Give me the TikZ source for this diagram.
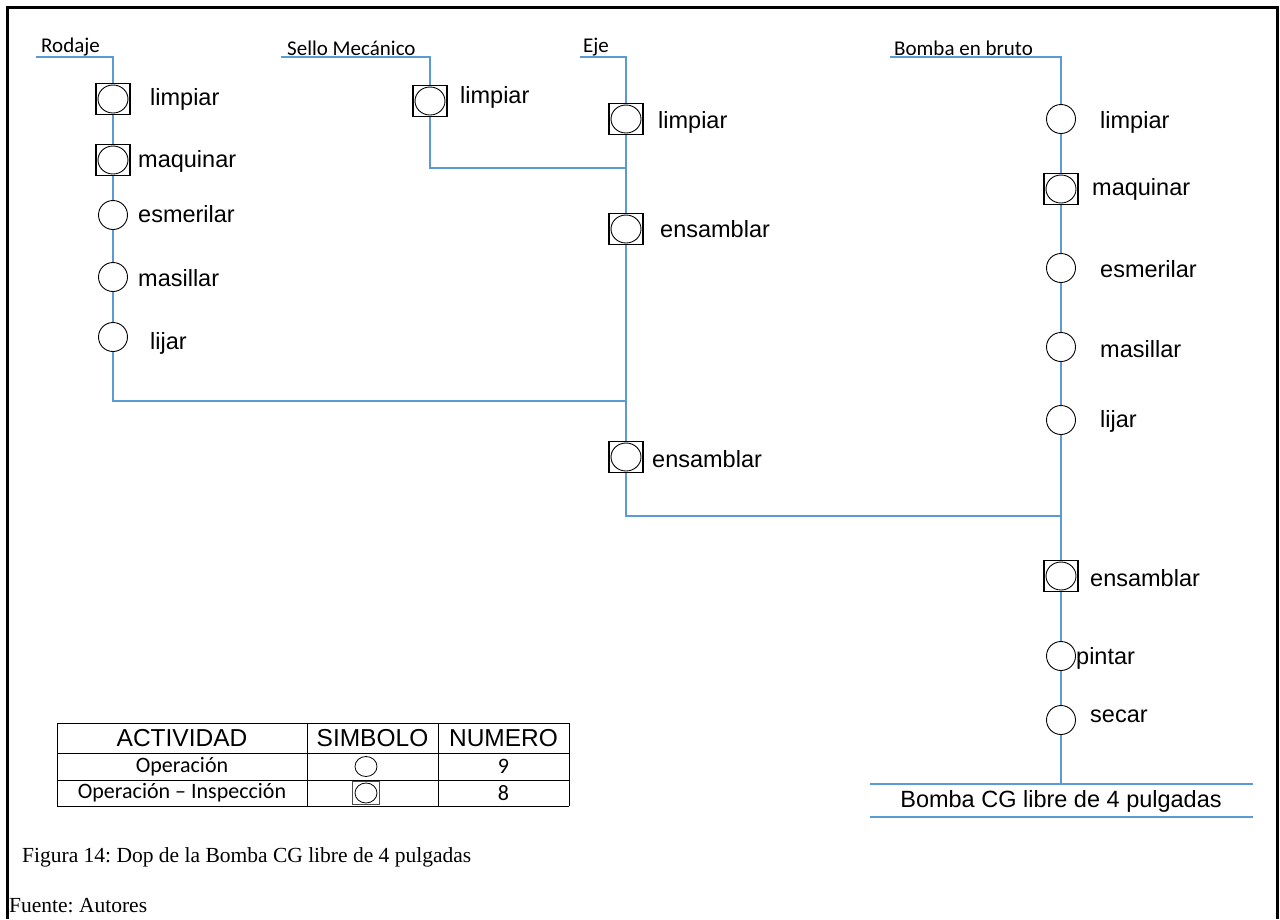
\documentclass[tikz,border=0pt]{standalone}
\usepackage{fontspec}
\setmainfont{Liberation Serif}
\newfontfamily\arialfont{Liberation Sans}
\newfontfamily\calfont{Carlito}
\usetikzlibrary{shapes.geometric, positioning, calc}
\frenchspacing

\definecolor{flowblue}{RGB}{91,155,213}

\begin{document}
\begin{tikzpicture}[x=1pt,y=-1pt,
  flow/.style={draw=flowblue, line width=1.4pt},
  oper/.style={draw, circle, minimum size=29pt, inner sep=0pt, line width=0.9pt},
  operins/.style={draw, rectangle, minimum width=34pt, minimum height=31pt, inner sep=0pt, line width=1.1pt,
    path picture={\draw[line width=0.9pt] (path picture bounding box.center) ellipse [x radius=15pt, y radius=14pt];}},
  act/.style={anchor=west, font=\arialfont\fontsize{23.5}{26}\selectfont, inner sep=0pt},
  src/.style={anchor=south west, font=\calfont\fontsize{21}{24}\selectfont, inner sep=1pt},
  cell/.style={font=\calfont\fontsize{22}{24}\selectfont, inner sep=0pt},
  head/.style={font=\arialfont\fontsize{24.5}{27}\selectfont, inner sep=0pt}]

\useasboundingbox (0,0) rectangle (1280,919);

% frame
\draw[line width=3pt] (7,919) -- (7,7) -- (1277,7) -- (1277,919);

\def\xrod{113}
\def\xsel{430}
\def\xeje{626}
\def\xbom{1061}
\def\ytop{57}

% sources
\coordinate (rodin) at (36,\ytop);
\coordinate (rodtop) at (\xrod,\ytop);
\coordinate (selin) at (281,\ytop);
\coordinate (seltop) at (\xsel,\ytop);
\coordinate (ejein) at (580,\ytop);
\coordinate (ejetop) at (\xeje,\ytop);
\coordinate (bomin) at (890,\ytop);
\coordinate (bomtop) at (\xbom,\ytop);
\node[src] (rodlbl) at (40,\ytop) {Rodaje};
\node[src] (sellbl) at (286,\ytop) {Sello Mecánico};
\node[src] (ejelbl) at (582,\ytop) {Eje};
\node[src] (bomlbl) at (893,\ytop) {Bomba en bruto};

% Rodaje
\node[operins] (r1) at (\xrod,99) {};
\node[operins] (r2) at (\xrod,160) {};
\node[oper] (r3) at (\xrod,215) {};
\node[oper] (r4) at (\xrod,277) {};
\node[oper] (r5) at (\xrod,337) {};
\node[act] at (150,99) {limpiar};
\node[act] at (138,161) {maquinar};
\node[act] at (138,214) {esmerilar};
\node[act] at (138,278) {masillar};
\node[act] at (150,343) {lijar};
\coordinate (rodend) at (\xrod,401);

% Sello
\node[operins] (s1) at (\xsel,101) {};
\node[act] at (460,97) {limpiar};
\coordinate (selend) at (\xsel,168);

% Eje
\node[operins] (e1) at (\xeje,119) {};
\node[operins] (e2) at (\xeje,229) {};
\node[operins] (e3) at (\xeje,457) {};
\node[act] at (658,122) {limpiar};
\node[act] at (660,229) {ensamblar};
\node[act] at (652,459) {ensamblar};
\coordinate (ejej1) at (\xeje,168);
\coordinate (ejej2) at (\xeje,401);
\coordinate (ejeend) at (\xeje,516);

% Bomba
\node[oper] (b1) at (\xbom,119) {};
\node[operins] (b2) at (\xbom,189) {};
\node[oper] (b3) at (\xbom,268) {};
\node[oper] (b4) at (\xbom,347) {};
\node[oper] (b5) at (\xbom,420) {};
\node[operins] (b6) at (\xbom,576) {};
\node[oper] (b7) at (\xbom,656) {};
\node[oper] (b8) at (\xbom,720) {};
\node[act] at (1100,122) {limpiar};
\node[act] at (1092,189) {maquinar};
\node[act] at (1100,269) {esmerilar};
\node[act] at (1100,349) {masillar};
\node[act] at (1100,421) {lijar};
\node[act] at (1090,578) {ensamblar};
\node[act] at (1076,658) {pintar};
\node[act] at (1090,716) {secar};
\coordinate (bomj) at (\xbom,516);
\coordinate (bomend) at (\xbom,784);

% flow lines
\draw[flow] (rodin) -- (rodtop) -- (r1);
\draw[flow] (r1) -- (r2);
\draw[flow] (r2) -- (r3);
\draw[flow] (r3) -- (r4);
\draw[flow] (r4) -- (r5);
\draw[flow] (r5) -- (rodend) -- (ejej2);
\draw[flow] (selin) -- (seltop) -- (s1);
\draw[flow] (s1) -- (selend) -- (ejej1);
\draw[flow] (ejein) -- (ejetop) -- (e1);
\draw[flow] (e1) -- (e2);
\draw[flow] (e2) -- (e3);
\draw[flow] (e3) -- (ejeend) -- (bomj);
\draw[flow] (bomin) -- (bomtop) -- (b1);
\draw[flow] (b1) -- (b2);
\draw[flow] (b2) -- (b3);
\draw[flow] (b3) -- (b4);
\draw[flow] (b4) -- (b5);
\draw[flow] (b5) -- (b6);
\draw[flow] (b6) -- (b7);
\draw[flow] (b7) -- (b8);
\draw[flow] (b8) -- (bomend);

% product
\draw[flow] (870,784) -- (1253,784);
\draw[flow] (870,817) -- (1253,817);
\node[font=\arialfont\fontsize{23.5}{26}\selectfont, inner sep=0pt] (prod) at (1061,801) {Bomba CG libre de 4 pulgadas};

% summary table
\def\tl{57}
\def\tr{569}
\foreach \y in {723,753,780,806} \draw[line width=0.9pt] (\tl,\y) -- (\tr,\y);
\foreach \x in {57,307,438,569} \draw[line width=0.9pt] (\x,723) -- (\x,806);
\node[head] (hact) at (182,738) {ACTIVIDAD};
\node[head] (hsim) at (372.5,738) {SIMBOLO};
\node[head] (hnum) at (503.5,738) {NUMERO};
\node[cell] (tact1) at (182,766.5) {Operación};
\node[cell] (tact2) at (182,793) {Operación – Inspección};
\node[draw, ellipse, minimum width=22pt, minimum height=20pt, inner sep=0pt, line width=0.8pt] (tsim1) at (366,766.5) {};
\node[draw, rectangle, minimum width=27pt, minimum height=23pt, inner sep=0pt, line width=0.8pt, draw=black!70,
  path picture={\draw[black, line width=0.8pt] (path picture bounding box.center) ellipse [x radius=11pt, y radius=10pt];}] (tsim2) at (366,793) {};
\node[cell] (tnum1) at (503.5,766.5) {9};
\node[cell] (tnum2) at (503.5,793) {8};

% caption
\node[anchor=west, font=\fontsize{21.5}{24}\selectfont, inner sep=0pt] (cap) at (22,857) {Figura 14: Dop de la Bomba CG libre de 4 pulgadas};
\node[anchor=west, font=\fontsize{21.5}{24}\selectfont, inner sep=0pt] (fuente) at (9,906) {Fuente: Autores};

\end{tikzpicture}
\end{document}
